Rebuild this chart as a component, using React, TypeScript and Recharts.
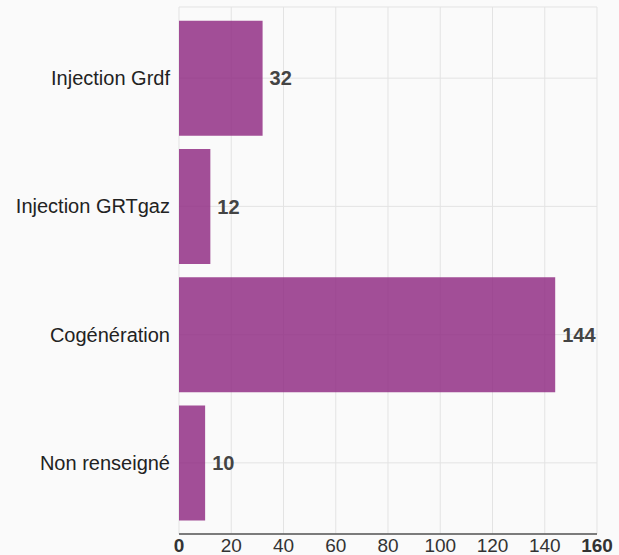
import React from 'react'
import { BarChart, Bar, CartesianGrid, XAxis, YAxis, LabelList } from 'recharts'

const categories = ['Injection Grdf', 'Injection GRTgaz', 'Cogénération', 'Non renseigné']
const counts = [32, 12, 144, 10]
const xTicks = [0, 20, 40, 60, 80, 100, 120, 140, 160]

const data = categories.map((name, i) => ({ name, value: counts[i] }))

const FONT = '"Liberation Sans", Arial, sans-serif'

function XTick(props: any) {
  const { x, y, payload } = props
  const edge = payload.value === xTicks[0] || payload.value === xTicks[xTicks.length - 1]
  return (
    <text x={x} y={y} dy={18} textAnchor="middle" fill="#333" fontSize={19} fontFamily={FONT} fontWeight={edge ? 'bold' : 'normal'}>
      {payload.value}
    </text>
  )
}

export default function App() {
  return (
    <div style={{ position: 'absolute', left: 0, top: 0, width: 619, height: 555, background: '#fafafa' }}>
      <BarChart
        width={619}
        height={555}
        data={data}
        layout="vertical"
        margin={{ top: 7, right: 22, bottom: 0, left: 0 }}
        barCategoryGap={6.75}
      >
        <CartesianGrid stroke="#e3e3e3" />
        <XAxis
          type="number"
          domain={[0, 160]}
          ticks={xTicks}
          height={21}
          tickLine={false}
          tickSize={0}
          tickMargin={0}
          axisLine={{ stroke: '#555', strokeWidth: 1.5 }}
          tick={<XTick />}
          interval={0}
        />
        <YAxis
          type="category"
          dataKey="name"
          width={179}
          axisLine={false}
          tickLine={false}
          tickSize={0}
          tickMargin={9}
          padding={{ top: 7, bottom: 7 }}
          tick={{ fill: '#222', fontSize: 20, fontFamily: FONT }}
        />
        <Bar dataKey="value" fill="#922f85" fillOpacity={0.85} isAnimationActive={false}>
          <LabelList dataKey="value" position="right" offset={7} fill="#444" fontSize={20} fontWeight="bold" fontFamily={FONT} />
        </Bar>
      </BarChart>
    </div>
  )
}
